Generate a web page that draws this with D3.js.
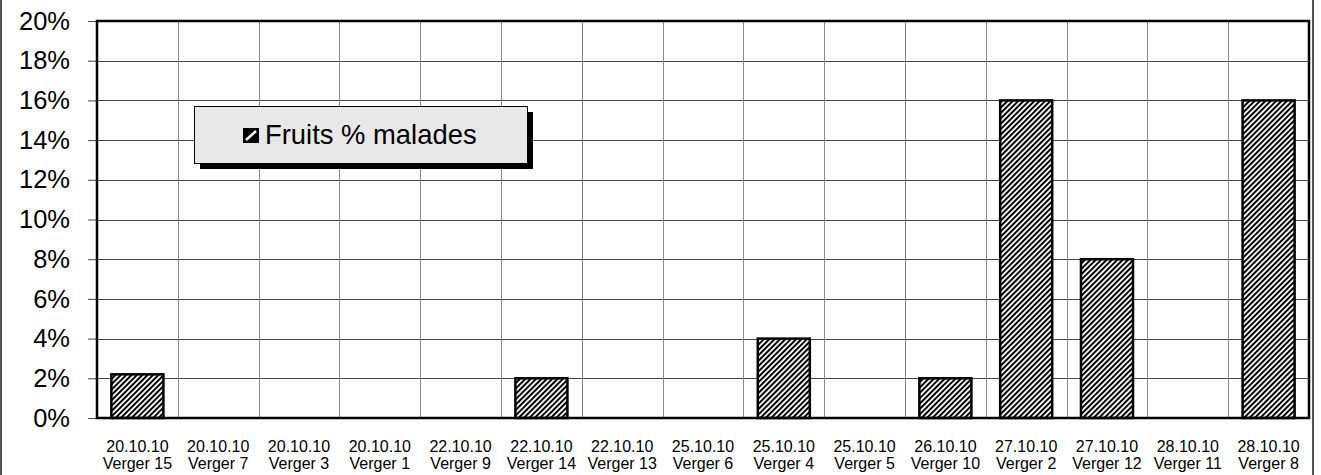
<!DOCTYPE html>
<html>
<head>
<meta charset="utf-8">
<script src="https://cdn.jsdelivr.net/npm/d3@7/dist/d3.min.js"></script>
<style>
  html, body { margin: 0; padding: 0; background: #fff; }
  svg { display: block; font-family: "Liberation Sans", Arial, sans-serif; }
</style>
</head>
<body>
<svg id="chart" width="1321" height="475"></svg>
<script>
// Orchard sampling: date and orchard for each bar
const dates = ["20.10.10","20.10.10","20.10.10","20.10.10","22.10.10","22.10.10","22.10.10","25.10.10","25.10.10","25.10.10","26.10.10","27.10.10","27.10.10","28.10.10","28.10.10"];
const orchards = ["Verger 15","Verger 7","Verger 3","Verger 1","Verger 9","Verger 14","Verger 13","Verger 6","Verger 4","Verger 5","Verger 10","Verger 2","Verger 12","Verger 11","Verger 8"];
// Share of diseased fruit (%)
const diseased = [2.2, 0, 0, 0, 0, 2, 0, 0, 4, 0, 2, 16, 8, 0, 16];
const yTicks = [0, 2, 4, 6, 8, 10, 12, 14, 16, 18, 20];
const seriesName = "Fruits % malades";

const svg = d3.select("#chart");
const W = 1321, H = 475;
const m = { left: 97, top: 21, right: 12, bottom: 57 };
const pw = W - m.left - m.right;  // 1212
const ph = H - m.top - m.bottom;  // 397

const keys = d3.range(dates.length);
const x = d3.scaleBand().domain(keys).range([m.left, m.left + pw]).paddingInner(0.356).paddingOuter(0.178);
const band = d3.scaleBand().domain(keys).range([m.left, m.left + pw]);
const y = d3.scaleLinear().domain([0, 20]).range([m.top + ph, m.top]);

// Diagonal hatch fill
const defs = svg.append("defs");
const pat = defs.append("pattern")
  .attr("id", "hatch").attr("patternUnits", "userSpaceOnUse")
  .attr("width", 3.8).attr("height", 3.8)
  .attr("patternTransform", "rotate(45)");
pat.append("rect").attr("width", 3.8).attr("height", 3.8).attr("fill", "#fff");
pat.append("rect").attr("x", 0).attr("y", 0).attr("width", 2).attr("height", 3.8).attr("fill", "#000");

// Outer frame sides
svg.append("line").attr("x1", 1).attr("x2", 1).attr("y1", 0).attr("y2", H)
  .attr("stroke", "#555").attr("stroke-width", 2);
svg.append("line").attr("x1", 1313).attr("x2", 1313).attr("y1", 0).attr("y2", H)
  .attr("stroke", "#555").attr("stroke-width", 2);

// Horizontal grid
svg.append("g").selectAll("line").data(yTicks).join("line")
  .attr("x1", m.left).attr("x2", m.left + pw)
  .attr("y1", d => Math.round(y(d)) + 0.5).attr("y2", d => Math.round(y(d)) + 0.5)
  .attr("stroke", "#444").attr("stroke-width", 1);

// Vertical grid at category boundaries
svg.append("g").selectAll("line").data(keys.slice(1)).join("line")
  .attr("x1", d => Math.round(band(d)) + 0.5).attr("x2", d => Math.round(band(d)) + 0.5)
  .attr("y1", m.top).attr("y2", m.top + ph)
  .attr("stroke", "#888").attr("stroke-width", 1);

// Y axis ticks and labels
const yAxis = d3.axisLeft(y).tickValues(yTicks).tickFormat(d => d + "%").tickSize(9).tickPadding(18);
const gy = svg.append("g").attr("transform", `translate(${m.left},0)`).call(yAxis);
gy.select(".domain").remove();
gy.selectAll(".tick line").attr("stroke", "#444");
gy.selectAll(".tick text").attr("font-size", 25.5).attr("fill", "#000")
  .attr("font-family", "Liberation Sans, Arial, sans-serif");

// Bars
svg.append("g").selectAll("rect").data(keys.filter(i => diseased[i] > 0)).join("rect")
  .attr("x", i => x(i)).attr("width", x.bandwidth())
  .attr("y", i => y(diseased[i])).attr("height", i => y(0) - y(diseased[i]))
  .attr("fill", "url(#hatch)").attr("stroke", "#000").attr("stroke-width", 2.5);

// Plot frame
svg.append("rect").attr("x", m.left).attr("y", m.top).attr("width", pw).attr("height", ph)
  .attr("fill", "none").attr("stroke", "#000").attr("stroke-width", 2.5);

// Category labels (two lines)
const xl = svg.append("g").selectAll("text").data(keys).join("text")
  .attr("text-anchor", "middle").attr("font-size", 16).attr("fill", "#000")
  .attr("x", i => band(i) + band.bandwidth() / 2);
xl.append("tspan").attr("x", i => band(i) + band.bandwidth() / 2).attr("y", 452).text(i => dates[i]);
xl.append("tspan").attr("x", i => band(i) + band.bandwidth() / 2).attr("y", 469).text(i => orchards[i]);

// Legend with drop shadow
const lg = svg.append("g");
lg.append("rect").attr("x", 200).attr("y", 112).attr("width", 333).attr("height", 57).attr("fill", "#000");
lg.append("rect").attr("x", 194.5).attr("y", 106.5).attr("width", 333).attr("height", 57)
  .attr("fill", "#e8e8e8").attr("stroke", "#000").attr("stroke-width", 1);
lg.append("rect").attr("x", 243).attr("y", 128).attr("width", 16).attr("height", 15).attr("fill", "#000");
lg.append("line").attr("x1", 246).attr("y1", 140).attr("x2", 256).attr("y2", 131)
  .attr("stroke", "#fff").attr("stroke-width", 2.5);
lg.append("text").attr("x", 265).attr("y", 144).attr("font-size", 27.4).attr("fill", "#000").text(seriesName);
</script>
</body>
</html>
